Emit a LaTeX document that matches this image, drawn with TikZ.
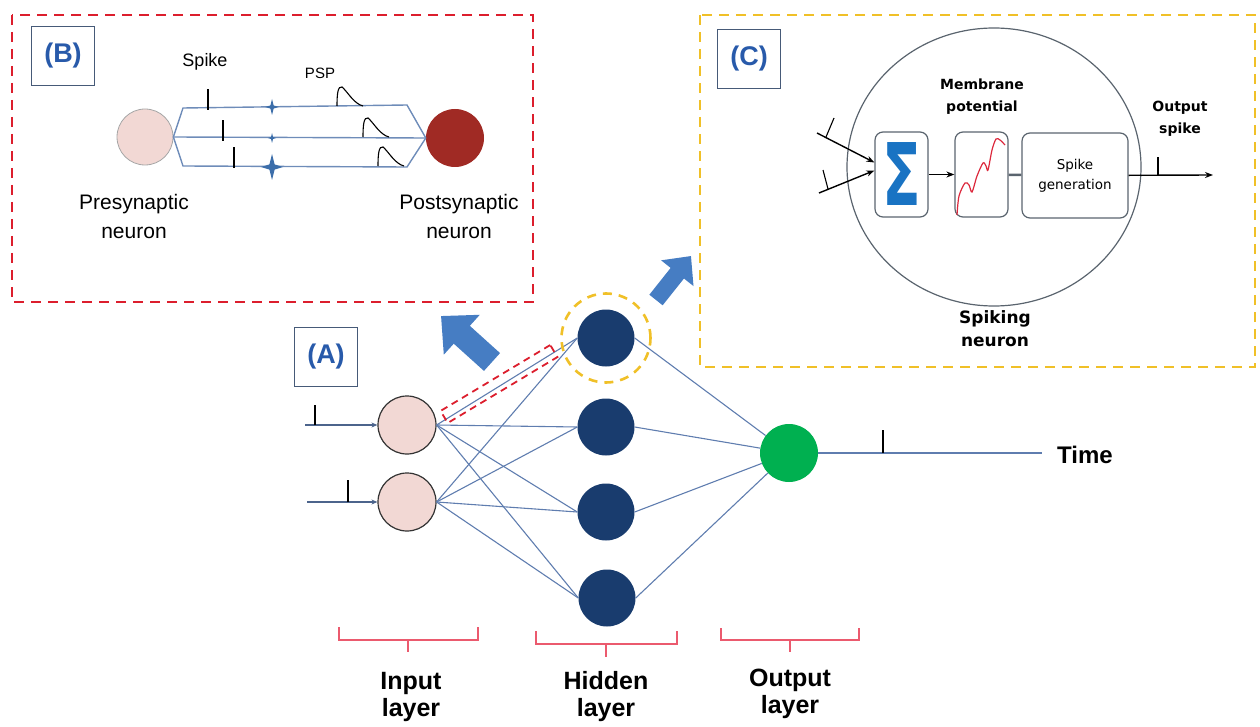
\documentclass[tikz,border=0pt]{standalone}
\usepackage{fontspec}
\setmainfont{Liberation Sans}
\newfontfamily\verdanalike{DejaVu Sans}
\usepackage{tikz}
\usetikzlibrary{arrows.meta, positioning, shapes.geometric, calc}
\definecolor{boxred}{RGB}{220,30,45}
\definecolor{boxyellow}{RGB}{240,192,40}
\definecolor{tagframe}{RGB}{70,90,120}
\definecolor{tagblue}{RGB}{40,90,170}
\definecolor{arrowblue}{RGB}{70,125,195}
\definecolor{connblue}{RGB}{95,125,175}
\definecolor{hidnavy}{RGB}{25,60,110}
\definecolor{outgreen}{RGB}{0,176,80}
\definecolor{prepink}{RGB}{242,216,212}
\definecolor{postred}{RGB}{160,42,36}
\definecolor{bracered}{RGB}{235,90,110}
\definecolor{sigmablue}{RGB}{25,115,195}
\definecolor{tracered}{RGB}{220,40,60}
\definecolor{axonblue}{RGB}{110,140,185}
\definecolor{starblue}{RGB}{60,110,170}
\definecolor{blockgray}{RGB}{90,100,110}

% four-point star on a synapse: x, y, arm length
\newcommand{\synapse}[3]{%
  \fill[starblue] (#1,#2-#3) -- (#1+0.2*#3,#2-0.2*#3) -- (#1+0.85*#3,#2)
    -- (#1+0.2*#3,#2+0.2*#3) -- (#1,#2+#3) -- (#1-0.2*#3,#2+0.2*#3)
    -- (#1-0.85*#3,#2) -- (#1-0.2*#3,#2-0.2*#3) -- cycle;}
% post-synaptic potential bump: base x, base y
\newcommand{\pspbump}[2]{%
  \draw[line width=1.1pt] (#1,#2) .. controls (#1,#2-13) and (#1+1,#2-20) .. (#1+5,#2-19)
    .. controls (#1+10,#2-15) and (#1+17,#2-2) .. (#1+26,#2);}

\begin{document}
\begin{tikzpicture}[
    x=1pt, y=-1pt,
    frameB/.style={draw=boxred, line width=2.6pt, dash pattern=on 10pt off 7pt},
    frameC/.style={draw=boxyellow, line width=2.6pt, dash pattern=on 10pt off 7pt},
    tag/.style={draw=tagframe, line width=1.1pt, minimum width=63pt, minimum height=59pt, inner sep=0pt, text=tagblue, font=\fontsize{27}{27}\selectfont\bfseries},
    preneuron/.style={circle, draw=gray!70, line width=0.8pt, fill=prepink, minimum size=56pt, inner sep=0pt},
    postneuron/.style={circle, fill=postred, minimum size=58pt, inner sep=0pt},
    inneuron/.style={circle, draw=black!80, line width=1.2pt, fill=prepink, minimum size=58pt, inner sep=0pt},
    hidneuron/.style={circle, fill=hidnavy, minimum size=57pt, inner sep=0pt},
    outneuron/.style={circle, fill=outgreen, minimum size=58pt, inner sep=0pt},
    conn/.style={draw=connblue, line width=1.1pt},
    axon/.style={draw=axonblue, line width=1.4pt},
    spiketick/.style={draw=black, line width=1.1pt},
    block/.style={draw=blockgray, line width=1.2pt, rounded corners=8pt, inner sep=0pt, align=center, font=\verdanalike\fontsize{13.5}{20}\selectfont},
    sigarrow/.style={-{Stealth[length=8pt, width=6pt]}, line width=1.4pt},
    blockarrow/.style={draw=arrowblue, -{Triangle[length=28pt, width=52pt]}},
    brace/.style={draw=bracered, line width=1.6pt},
    layerlabel/.style={align=center, font=\fontsize{25}{27}\selectfont\bfseries},
    plain/.style={align=center, font=\fontsize{21}{29}\selectfont},
    smallbold/.style={align=center, font=\verdanalike\fontsize{14}{22}\selectfont\bfseries}
]
\useasboundingbox (0,0) rectangle (1260,727);

% ---- (B) synapse panel
\draw[frameB] (12,15) rectangle (533,302);
\node[tag] (tagB) at (63,56) {(B)};
\node[preneuron] (pre) at (145,137) {};
\node[postneuron] (post) at (455,138) {};
\draw[axon] (pre.east) -- (183,108) -- (407,105) -- (post.west);
\draw[axon] (pre.east) -- (post.west);
\draw[axon] (pre.east) -- (183,166) -- (407,167) -- (post.west);
\draw[spiketick] (208,110) -- ++(0,-21);
\draw[spiketick] (223,141) -- ++(0,-21);
\draw[spiketick] (234,168) -- ++(0,-21);
\synapse{272}{107}{8}
\synapse{272}{138}{5}
\synapse{272}{167}{13}
\pspbump{337}{106}
\pspbump{363}{137}
\pspbump{378}{166}
\node[font=\fontsize{18}{18}\selectfont] (spikelbl) at (205,62) {Spike};
\node[font=\fontsize{15}{15}\selectfont] (psplbl) at (320,73) {PSP};
\node[plain] (prelbl) at (134,216) {Presynaptic\\neuron};
\node[plain] (postlbl) at (459,216) {Postsynaptic\\neuron};

% ---- (C) spiking neuron panel
\draw[frameC] (700,15) rectangle (1255,367);
\node[tag] (tagC) at (749,59) {(C)};
\draw[blockgray, line width=1.2pt] (994,167) ellipse [x radius=147, y radius=139];
\node[block, minimum width=53pt, minimum height=85pt] (sum) at (901.5,174.5)
  {\textcolor{sigmablue}{\scalebox{1.05}[1.6]{\fontsize{54}{54}\selectfont\bfseries Σ}}};
\node[block, minimum width=53pt, minimum height=85pt] (memb) at (981.5,174.5) {};
\node[block, minimum width=106pt, minimum height=85pt] (gen) at (1075,175.5) {Spike\\generation};
\draw[tracered, line width=1.2pt] plot[smooth] coordinates
  {(957,215) (959,196) (965,183) (969,185) (972,192) (977,176) (983,163) (986,166) (988,170) (992,150) (996,139) (1000,140) (1005,145)};
\coordinate (inA) at (817,133);
\coordinate (inB) at (819,193);
\coordinate (spkout) at (1213,175);
\draw[sigarrow] (inA) -- ([yshift=12pt]sum.west);
\draw[sigarrow] (inB) -- ([yshift=4pt]sum.west);
\draw[spiketick] (826,137) -- ++(8,-19);
\draw[spiketick] (828,189) -- ++(-5,-19);
\draw[sigarrow] (sum) -- (memb);
\draw[blockgray, line width=2.5pt] (memb) -- (gen);
\draw[sigarrow] (gen) -- (spkout);
\draw[spiketick] (1158,175) -- ++(0,-18);
\node[smallbold] (memlbl) at (982,97) {Membrane\\potential};
\node[smallbold] (outlbl) at (1180,118.5) {Output\\spike};
\node[align=center, font=\verdanalike\fontsize{17}{23}\selectfont\bfseries] (spikinglbl) at (995,328.5) {Spiking\\neuron};

% ---- (A) network
\node[tag] (tagA) at (326,357) {(A)};
\coordinate (arrBtail) at (492,362);
\coordinate (arrBtip) at (441,316);
\coordinate (arrCtail) at (656,300);
\coordinate (arrCtip) at (691,256);
\draw[blockarrow, line width=24pt] (arrBtail) -- (arrBtip);
\draw[blockarrow, line width=17pt, -{Triangle[length=22pt, width=40pt]}] (arrCtail) -- (arrCtip);

\node[inneuron] (in1) at (407,425) {};
\node[inneuron] (in2) at (407,502) {};
\node[hidneuron] (h1) at (606,338) {};
\node[hidneuron] (h2) at (606,427) {};
\node[hidneuron] (h3) at (606,512) {};
\node[hidneuron] (h4) at (607,598) {};
\node[outneuron] (out) at (789,453) {};
\node[font=\fontsize{24}{24}\selectfont\bfseries] (timelbl) at (1085,455) {Time};

\coordinate (x1) at (305,425);
\coordinate (x2) at (307,502);
\coordinate (tend) at (1042,453);
\draw[conn, draw=connblue!80!black, -{Stealth[length=6pt, width=5pt]}] (x1) -- (in1);
\draw[conn, draw=connblue!80!black, -{Stealth[length=6pt, width=5pt]}] (x2) -- (in2);
\draw[spiketick] (315,425) -- ++(0,-20);
\draw[spiketick] (348,502) -- ++(0,-22);
\foreach \i in {in1,in2}
  \foreach \h in {h1,h2,h3,h4}
    \draw[conn] (\i.east) -- (\h.west);
\foreach \h in {h1,h2,h3,h4}
  \draw[conn] (\h.east) -- (out);
\draw[conn] (out) -- (tend);
\draw[spiketick] (883,453) -- ++(0,-23);

\node[draw=boxred, line width=1.8pt, dash pattern=on 7pt off 5pt, rotate=31, minimum width=128pt, minimum height=14pt] (focus) at (499,384) {};
\node[draw=boxyellow, line width=2.6pt, dash pattern=on 9pt off 7pt, circle, minimum size=89pt] (ring) at (h1) {};

% ---- layer braces
\draw[brace] (339,627) -- (339,640) -- (478,640) -- (478,627);
\draw[brace] (408,640) -- (408,652);
\draw[brace] (536,631) -- (536,644) -- (677,644) -- (677,631);
\draw[brace] (606,644) -- (606,657);
\draw[brace] (721,628) -- (721,640) -- (859,640) -- (859,628);
\draw[brace] (790,640) -- (790,652);
\node[layerlabel] (inlbl) at (411,697) {Input\\layer};
\node[layerlabel] (hidlbl) at (606,697) {Hidden\\layer};
\node[layerlabel] (outlayerlbl) at (790,694) {Output\\layer};
\end{tikzpicture}
\end{document}
